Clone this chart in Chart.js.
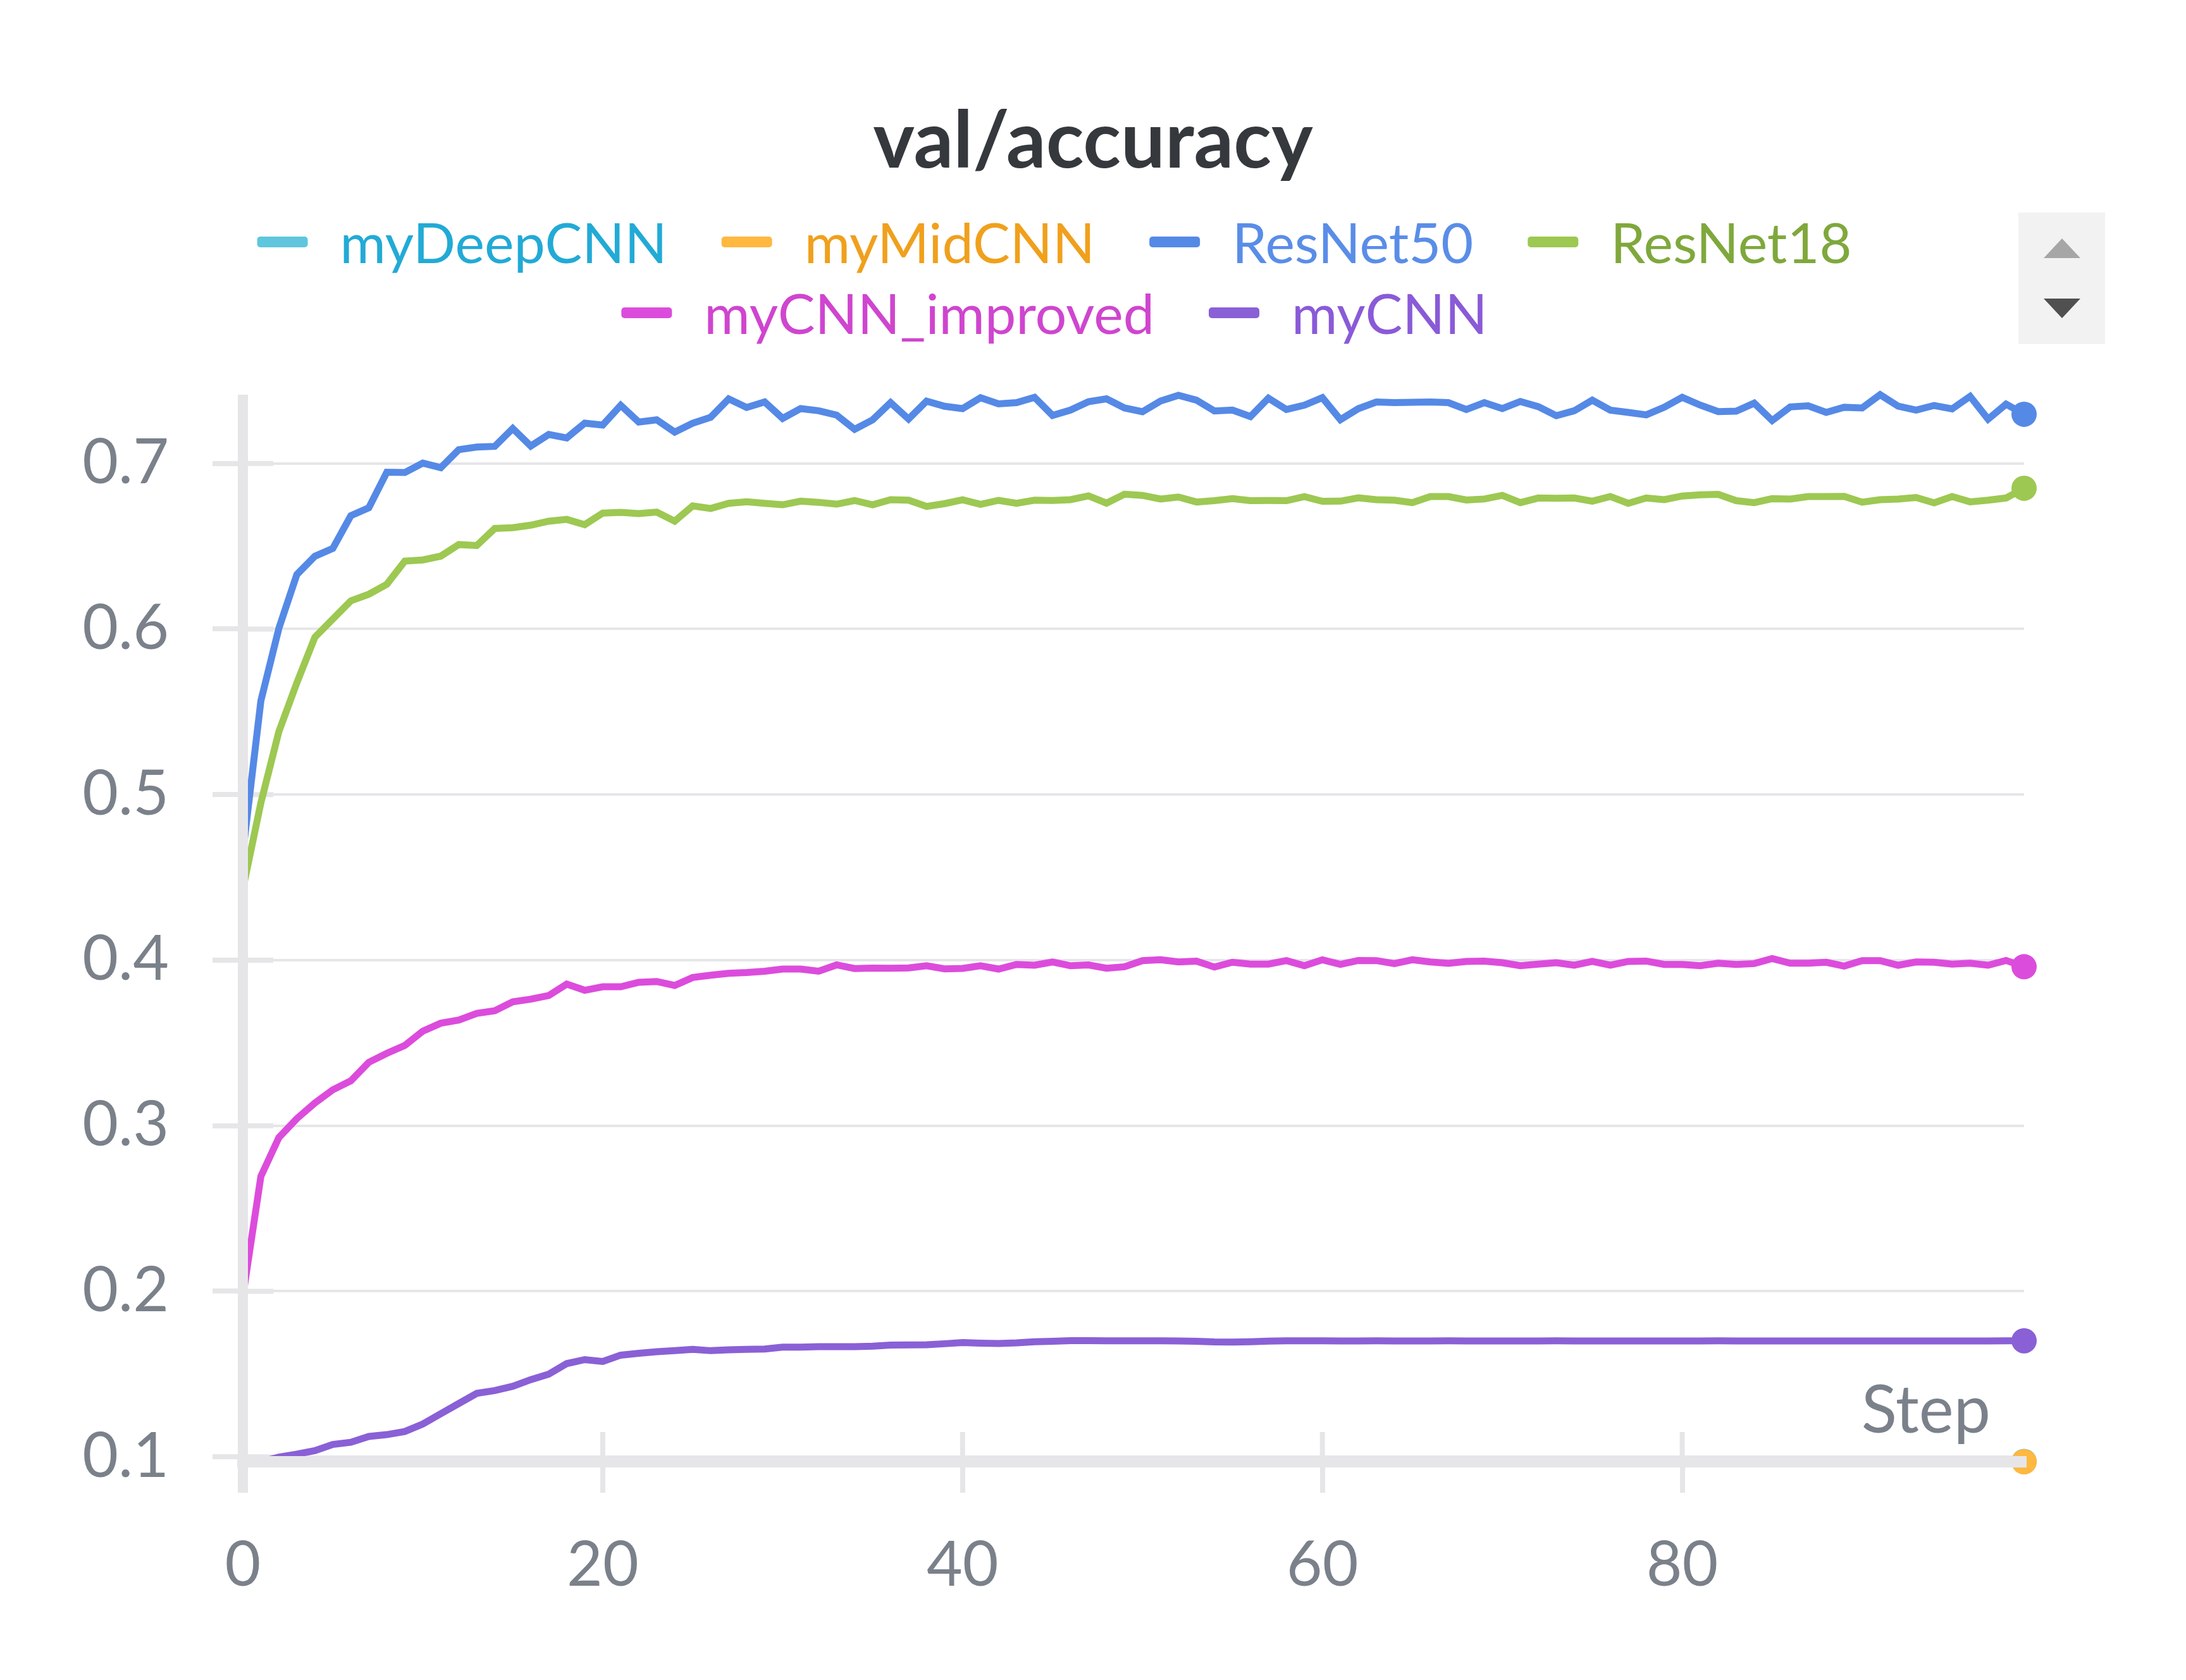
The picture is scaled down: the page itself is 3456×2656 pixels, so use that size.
<!DOCTYPE html>
<html><head><meta charset="utf-8">
<script src="https://cdn.jsdelivr.net/npm/chart.js@4.4.1/dist/chart.umd.min.js"></script>
<style>html,body{margin:0;padding:0;background:#fff;}canvas{display:block;}</style>
</head><body>
<canvas id="c" width="3456" height="2656" style="width:3456px;height:2656px"></canvas>
<script>
const TITLE = 'val/accuracy';
const X_TITLE = 'Step';
const SERIES_NAMES = ['myDeepCNN', 'myMidCNN', 'ResNet50', 'ResNet18', 'myCNN_improved', 'myCNN'];
const LINE_COLORS = ['#5fc6dd', '#ffb840', '#5589e6', '#9dc852', '#dc4cdc', '#8a60d6'];
const TEXT_COLORS = ['#22aad6', '#f0a01c', '#5a8de8', '#7fa83c', '#cf45cf', '#8a5ad8'];
const X_TICKS = [0, 20, 40, 60, 80];
const Y_TICKS = [0.1, 0.2, 0.3, 0.4, 0.5, 0.6, 0.7];
const STEPS = [0,1,2,3,4,5,6,7,8,9,10,11,12,13,14,15,16,17,18,19,20,21,22,23,24,25,26,27,28,29,30,31,32,33,34,35,36,37,38,39,40,41,42,43,44,45,46,47,48,49,50,51,52,53,54,55,56,57,58,59,60,61,62,63,64,65,66,67,68,69,70,71,72,73,74,75,76,77,78,79,80,81,82,83,84,85,86,87,88,89,90,91,92,93,94,95,96,97,98,99];

const MY_DEEP_CNN = [0.0972,0.0972,0.0972,0.0972,0.0972,0.0972,0.0972,0.0972,0.0972,0.0972,0.0972,0.0972,0.0972,0.0972,0.0972,0.0972,0.0972,0.0972,0.0972,0.0972,0.0972,0.0972,0.0972,0.0972,0.0972,0.0972,0.0972,0.0972,0.0972,0.0972,0.0972,0.0972,0.0972,0.0972,0.0972,0.0972,0.0972,0.0972,0.0972,0.0972,0.0972,0.0972,0.0972,0.0972,0.0972,0.0972,0.0972,0.0972,0.0972,0.0972,0.0972,0.0972,0.0972,0.0972,0.0972,0.0972,0.0972,0.0972,0.0972,0.0972,0.0972,0.0972,0.0972,0.0972,0.0972,0.0972,0.0972,0.0972,0.0972,0.0972,0.0972,0.0972,0.0972,0.0972,0.0972,0.0972,0.0972,0.0972,0.0972,0.0972,0.0972,0.0972,0.0972,0.0972,0.0972,0.0972,0.0972,0.0972,0.0972,0.0972,0.0972,0.0972,0.0972,0.0972,0.0972,0.0972,0.0972,0.0972,0.0972,0.0972];
const MY_MID_CNN = [0.097,0.097,0.097,0.097,0.097,0.097,0.097,0.097,0.097,0.097,0.097,0.097,0.097,0.097,0.097,0.097,0.097,0.097,0.097,0.097,0.097,0.097,0.097,0.097,0.097,0.097,0.097,0.097,0.097,0.097,0.097,0.097,0.097,0.097,0.097,0.097,0.097,0.097,0.097,0.097,0.097,0.097,0.097,0.097,0.097,0.097,0.097,0.097,0.097,0.097,0.097,0.097,0.097,0.097,0.097,0.097,0.097,0.097,0.097,0.097,0.097,0.097,0.097,0.097,0.097,0.097,0.097,0.097,0.097,0.097,0.097,0.097,0.097,0.097,0.097,0.097,0.097,0.097,0.097,0.097,0.097,0.097,0.097,0.097,0.097,0.097,0.097,0.097,0.097,0.097,0.097,0.097,0.097,0.097,0.097,0.097,0.097,0.097,0.097,0.097];
const RESNET50 = [0.465,0.5566,0.6004,0.6329,0.6439,0.6487,0.6684,0.6732,0.6947,0.6945,
  0.7002,0.6974,0.7083,0.7099,0.7103,0.7211,0.7105,0.7175,0.7154,0.7243,
  0.7232,0.7351,0.7250,0.7263,0.7189,0.7243,0.7279,0.7390,0.7338,0.7371,
  0.7272,0.7331,0.7318,0.7292,0.7206,0.7263,0.7367,0.7268,0.7376,0.7345,
  0.7331,0.7397,0.7360,0.7367,0.7399,0.7290,0.7322,0.7373,0.7390,0.7335,
  0.7312,0.7377,0.7411,0.7382,0.7317,0.7322,0.7283,0.7394,0.7326,0.7352,
  0.7397,0.7264,0.7331,0.7371,0.7367,0.7369,0.7371,0.7367,0.7326,0.7367,
  0.7331,0.7374,0.7343,0.7288,0.7318,0.7382,0.7322,0.7308,0.7293,0.7339,
  0.7399,0.7352,0.7313,0.7316,0.7364,0.7259,0.7341,0.7348,0.7308,0.7339,
  0.7335,0.7415,0.7346,0.7322,0.7350,0.7329,0.7405,0.7267,0.7358,0.7297];
const RESNET18 = [0.443,0.495,0.538,0.5675,0.595,0.606,0.617,0.621,0.627,0.641,
  0.6417,0.644,0.651,0.6504,0.6607,0.6612,0.6627,0.6651,0.6662,0.663,
  0.670,0.6704,0.6697,0.6706,0.6651,0.6743,0.6728,0.6759,0.6768,0.6759,
  0.675,0.6772,0.6765,0.6754,0.6776,0.6750,0.6781,0.6778,0.6740,0.6757,
  0.6780,0.6753,0.6777,0.6759,0.6778,0.6776,0.6781,0.6804,0.6760,0.6814,
  0.6807,0.6785,0.6797,0.6767,0.6775,0.6787,0.6775,0.6776,0.6775,0.6799,
  0.6771,0.6772,0.6792,0.6781,0.6778,0.6763,0.6800,0.6800,0.6779,0.6785,
  0.6807,0.6763,0.6791,0.6789,0.6791,0.6772,0.6800,0.6759,0.6791,0.6781,
  0.6803,0.6810,0.6813,0.6775,0.6763,0.6787,0.6785,0.6800,0.6800,0.6801,
  0.6766,0.6781,0.6785,0.6794,0.6762,0.6800,0.6768,0.6778,0.6791,0.6850];
const MY_CNN_IMPROVED = [0.197,0.2694,0.2928,0.3043,0.3137,0.3217,0.3271,0.3383,0.3437,0.3485,
  0.3571,0.3619,0.3638,0.3678,0.3694,0.3748,0.3764,0.3786,0.3855,0.3818,
  0.3839,0.3839,0.3866,0.3871,0.3847,0.3895,0.3909,0.3920,0.3925,0.3933,
  0.3946,0.3946,0.3933,0.3971,0.3949,0.3952,0.3951,0.3953,0.3966,0.3947,
  0.3950,0.3966,0.3946,0.3974,0.3969,0.3989,0.3966,0.3971,0.3951,0.3960,
  0.3997,0.4002,0.3989,0.3994,0.3958,0.3987,0.3976,0.3976,0.3997,0.3966,
  0.4002,0.3974,0.3998,0.3997,0.3979,0.4002,0.3989,0.3981,0.3992,0.3994,
  0.3984,0.3966,0.3976,0.3984,0.3969,0.3992,0.3969,0.3992,0.3994,0.3974,
  0.3974,0.3966,0.3981,0.3974,0.3979,0.4009,0.3981,0.3981,0.3987,0.3964,
  0.3997,0.3997,0.3969,0.3989,0.3987,0.3976,0.3981,0.3969,0.3998,0.3960];
const MY_CNN = [0.0965,0.097,0.0998,0.1016,0.1037,0.1075,0.1088,0.1123,0.1134,0.1153,
  0.1198,0.1260,0.1322,0.1383,0.1400,0.1426,0.1466,0.1499,0.1563,0.1587,
  0.1576,0.1614,0.1625,0.1635,0.1641,0.1649,0.1641,0.1646,0.1649,0.1651,
  0.1662,0.1662,0.1665,0.1665,0.1665,0.1668,0.1675,0.1676,0.1677,0.1683,
  0.1690,0.1686,0.1684,0.1688,0.1695,0.1698,0.1702,0.1702,0.1701,0.1701,
  0.1701,0.1701,0.1700,0.1698,0.1694,0.1693,0.1695,0.1699,0.1701,0.1701,
  0.1701,0.1700,0.1700,0.1701,0.1700,0.1700,0.1700,0.1701,0.1700,0.1700,
  0.1700,0.1700,0.1700,0.1701,0.1700,0.1700,0.1700,0.1700,0.1700,0.1700,
  0.1700,0.1700,0.1701,0.1700,0.1700,0.1700,0.1700,0.1700,0.1700,0.1700,
  0.1700,0.1700,0.1700,0.1700,0.1700,0.1700,0.1700,0.1700,0.1701,0.1701];

const SERIES = [MY_DEEP_CNN, MY_MID_CNN, RESNET50, RESNET18, MY_CNN_IMPROVED, MY_CNN];

const FONT = "Lato, 'Noto Sans', sans-serif";
const GRID = '#e6e6e9';
const TICK_TEXT = '#7b818a';

const overlay = {
  id: 'overlay',
  beforeDatasetsDraw(chart) {
    const {ctx, chartArea: a, scales: {y}} = chart;
    ctx.save();
    ctx.strokeStyle = GRID;
    ctx.lineWidth = 8;
    y.ticks.forEach(t => {
      const py = y.getPixelForValue(t.value);
      ctx.beginPath(); ctx.moveTo(a.left, py); ctx.lineTo(a.left + 48, py); ctx.stroke();
    });
    ctx.restore();
  },
  afterDatasetsDraw(chart) {
    const {ctx, chartArea: a, scales: {x}} = chart;
    ctx.save();
    ctx.fillStyle = GRID;
    ctx.fillRect(a.left - 8, a.top, 16, a.bottom - a.top + 49);
    x.ticks.forEach(t => {
      const px = x.getPixelForValue(t.value);
      if (t.value > 0) ctx.fillRect(px - 4, a.bottom - 47, 8, 47);
    });
    ctx.restore();
  },
  afterDraw(chart) {
    const {ctx} = chart;
    ctx.save();
    // title
    ctx.fillStyle = '#35383c';
    ctx.font = `bold 124px ${FONT}`;
    ctx.textAlign = 'center';
    ctx.textBaseline = 'alphabetic';
    ctx.fillText(TITLE, 1728, 265);
    // legend
    ctx.font = `88px ${FONT}`;
    ctx.textAlign = 'left';
    const SW = 80, GAP = 51, SEP = 86, MAXW = 3000;
    const items = SERIES_NAMES.map((n, i) => ({n, i, w: SW + GAP + ctx.measureText(n).width}));
    const rows = [[]];
    let cur = 0;
    items.forEach(it => {
      const row = rows[rows.length - 1];
      const add = (row.length ? SEP : 0) + it.w;
      if (row.length && cur + add > MAXW) { rows.push([it]); cur = it.w; }
      else { row.push(it); cur += add; }
    });
    rows.forEach((row, r) => {
      const total = row.reduce((s, it) => s + it.w, 0) + SEP * (row.length - 1);
      let xx = 1667 - total / 2;
      const base = 416 + r * 112;
      row.forEach(it => {
        ctx.fillStyle = LINE_COLORS[it.i];
        ctx.beginPath();
        ctx.roundRect(xx, base - 42, SW, 17, 5);
        ctx.fill();
        ctx.fillStyle = TEXT_COLORS[it.i];
        ctx.fillText(it.n, xx + SW + GAP, base);
        xx += it.w + SEP;
      });
    });
    // legend scroll box
    ctx.fillStyle = '#f2f2f2';
    ctx.fillRect(3191, 336, 137, 208);
    ctx.fillStyle = '#a6a6a6';
    ctx.beginPath(); ctx.moveTo(3260, 377); ctx.lineTo(3289, 408); ctx.lineTo(3231, 408); ctx.closePath(); ctx.fill();
    ctx.fillStyle = '#505050';
    ctx.beginPath(); ctx.moveTo(3231, 472); ctx.lineTo(3289, 472); ctx.lineTo(3260, 503); ctx.closePath(); ctx.fill();
    // x axis title
    ctx.fillStyle = TICK_TEXT;
    ctx.font = `104px ${FONT}`;
    ctx.textAlign = 'right';
    ctx.fillText(X_TITLE, 3147, 2265);
    ctx.restore();
  }
};

const lastOnly = r => ctx => (ctx.dataIndex === ctx.dataset.data.length - 1 ? r : 0);

const datasets = SERIES.map((vals, i) => ({
  label: SERIES_NAMES[i],
  data: STEPS.map((s, k) => ({x: s, y: vals[k]})),
  borderColor: LINE_COLORS[i],
  backgroundColor: LINE_COLORS[i],
  borderWidth: 11,
  tension: 0,
  fill: false,
  pointRadius: lastOnly(20),
  pointHoverRadius: lastOnly(20),
  pointBorderWidth: 0,
  pointBackgroundColor: LINE_COLORS[i],
  order: i === 0 ? 2 : 1,
  clip: {left: 0, top: 30, right: 30, bottom: 25}
}));

new Chart(document.getElementById('c'), {
  type: 'line',
  data: {datasets},
  plugins: [overlay],
  options: {
    responsive: false,
    devicePixelRatio: 1,
    animation: false,
    events: [],
    layout: {padding: {top: 624, left: 40, right: 256, bottom: 45}},
    plugins: {legend: {display: false}, title: {display: false}, tooltip: {enabled: false}},
    scales: {
      x: {
        type: 'linear',
        min: 0, max: 99,
        afterFit: s => { s.height = 300; },
        afterBuildTicks: s => { s.ticks = X_TICKS.map(v => ({value: v})); },
        grid: {drawOnChartArea: false, drawTicks: true, tickLength: 49, tickWidth: 8, tickColor: GRID, color: GRID, lineWidth: 8, z: 1},
        border: {display: true, width: 18, color: GRID, z: 1},
        ticks: {padding: 57, color: TICK_TEXT, font: {family: FONT, size: 98}, maxRotation: 0, callback: v => String(v)}
      },
      y: {
        type: 'linear',
        min: 0.097, max: 0.7415,
        afterFit: s => { s.width = 344; },
        afterBuildTicks: s => { s.ticks = Y_TICKS.map(v => ({value: v})); },
        grid: {color: GRID, lineWidth: 4, drawTicks: true, tickLength: 48, tickWidth: 8, tickColor: GRID},
        border: {display: false},
        ticks: {padding: 69, color: TICK_TEXT, font: {family: FONT, size: 98}, callback: v => Number(v).toFixed(1)}
      }
    }
  }
});
</script>
</body></html>
